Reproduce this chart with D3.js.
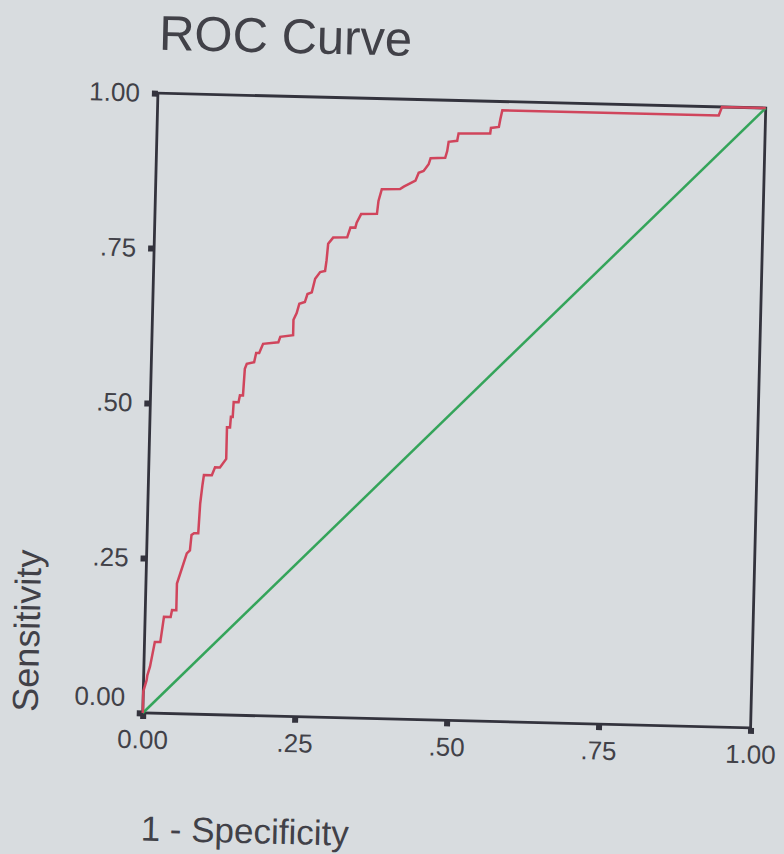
<!DOCTYPE html>
<html>
<head>
<meta charset="utf-8">
<script src="https://cdn.jsdelivr.net/npm/d3@7/dist/d3.min.js"></script>
<style>
  html, body { margin: 0; padding: 0; background: #d8dcdf; }
  svg { display: block; }
  text { font-family: "Liberation Sans", Arial, sans-serif; fill: #414148; }
</style>
</head>
<body>
<svg id="chart" width="784" height="854"></svg>
<script>
// ROC curve points: false positive rate (1 - specificity) and true positive rate (sensitivity)
const fpr = [0, 0, 0.005, 0.006, 0.010, 0.017, 0.026, 0.031, 0.042, 0.044, 0.051, 0.051,
  0.066, 0.071, 0.073, 0.077, 0.084, 0.086, 0.089, 0.091, 0.104, 0.109, 0.117, 0.127,
  0.127, 0.132, 0.133, 0.136, 0.137, 0.145, 0.147, 0.152, 0.154, 0.157, 0.169, 0.172,
  0.177, 0.183, 0.208, 0.211, 0.232, 0.232, 0.237, 0.241, 0.250, 0.254, 0.261, 0.266,
  0.274, 0.282, 0.284, 0.286, 0.294, 0.317, 0.322, 0.330, 0.332, 0.339, 0.365, 0.367,
  0.372, 0.402, 0.408, 0.427, 0.432, 0.440, 0.448, 0.451, 0.475, 0.478, 0.480, 0.494,
  0.496, 0.548, 0.549, 0.562, 0.564, 0.567, 0.923, 0.928, 1.000];
const tpr = [0, 0.035, 0.053, 0.061, 0.075, 0.115, 0.115, 0.156, 0.156, 0.167, 0.167, 0.210,
  0.259, 0.264, 0.289, 0.292, 0.292, 0.340, 0.370, 0.386, 0.386, 0.399, 0.399, 0.413,
  0.464, 0.464, 0.481, 0.481, 0.505, 0.505, 0.516, 0.516, 0.559, 0.567, 0.570, 0.585,
  0.585, 0.600, 0.603, 0.612, 0.615, 0.640, 0.651, 0.666, 0.669, 0.682, 0.685, 0.707,
  0.718, 0.720, 0.737, 0.764, 0.774, 0.775, 0.791, 0.791, 0.799, 0.813, 0.814, 0.835,
  0.854, 0.855, 0.859, 0.869, 0.882, 0.885, 0.896, 0.906, 0.907, 0.918, 0.933, 0.935,
  0.947, 0.948, 0.957, 0.959, 0.971, 0.986, 0.986, 1.000, 1.000];

// Chance reference line
const refX = [0, 1];
const refY = [0, 1];

// Axis ticks
const xTicks = [0, 0.25, 0.5, 0.75, 1];
const xTickLabels = ["0.00", ".25", ".50", ".75", "1.00"];
const yTicks = [0, 0.25, 0.5, 0.75, 1];
const yTickLabels = ["0.00", ".25", ".50", ".75", "1.00"];

const titleText = "ROC Curve";
const xTitle = "1 - Specificity";
const yTitle = "Sensitivity";

const margin = { left: 150.25, top: 100.5 };
const width = 608, height = 620;
const frameColor = "#33333d";

const svg = d3.select("#chart");
const root = svg.append("g")
  .attr("transform", `rotate(1.4, ${margin.left + width / 2}, ${margin.top + height / 2})`);

const x = d3.scaleLinear().domain([0, 1]).range([0, width]);
const y = d3.scaleLinear().domain([0, 1]).range([height, 0]);

const plot = root.append("g").attr("transform", `translate(${margin.left},${margin.top})`);

// Frame
plot.append("rect")
  .attr("x", 0).attr("y", 0)
  .attr("width", width).attr("height", height)
  .attr("fill", "none")
  .attr("stroke", frameColor)
  .attr("stroke-width", 2.8);

// Y axis with square tick marks
const yAxis = plot.append("g")
  .call(d3.axisLeft(y).tickValues(yTicks)
    .tickFormat((d, i) => yTickLabels[i])
    .tickSize(6).tickPadding(12));
// X axis
const xAxis = plot.append("g")
  .attr("transform", `translate(0,${height})`)
  .call(d3.axisBottom(x).tickValues(xTicks)
    .tickFormat((d, i) => xTickLabels[i])
    .tickSize(6).tickPadding(11));

[yAxis, xAxis].forEach(ax => {
  ax.select(".domain").remove();
  ax.selectAll(".tick line").attr("stroke", frameColor).attr("stroke-width", 6);
  ax.selectAll(".tick text")
    .attr("font-size", 26)
    .attr("fill", "#414148")
    .style("font-family", "'Liberation Sans', Arial, sans-serif");
});
// lift the lowest y label clear of the x axis labels
yAxis.selectAll(".tick").filter(d => d === 0).select("text").attr("dy", "-0.28em");

// Reference diagonal
plot.append("path")
  .datum(refX.map((v, i) => [v, refY[i]]))
  .attr("fill", "none")
  .attr("stroke", "#34a45a")
  .attr("stroke-width", 2.5)
  .attr("d", d3.line().x(d => x(d[0])).y(d => y(d[1])));

// ROC curve
plot.append("path")
  .datum(fpr.map((v, i) => [v, tpr[i]]))
  .attr("fill", "none")
  .attr("stroke", "#d0455c")
  .attr("stroke-width", 2.5)
  .attr("stroke-linejoin", "miter")
  .attr("d", d3.line().x(d => x(d[0])).y(d => y(d[1])));

// Titles
root.append("text")
  .attr("x", 150).attr("y", 57)
  .attr("font-size", 49)
  .text(titleText);

root.append("text")
  .attr("x", 151).attr("y", 848)
  .attr("font-size", 35)
  .text(xTitle);

root.append("text")
  .attr("transform", `translate(45, ${margin.top + height + 1.5}) rotate(-90)`)
  .attr("font-size", 36)
  .text(yTitle);
</script>
</body>
</html>
